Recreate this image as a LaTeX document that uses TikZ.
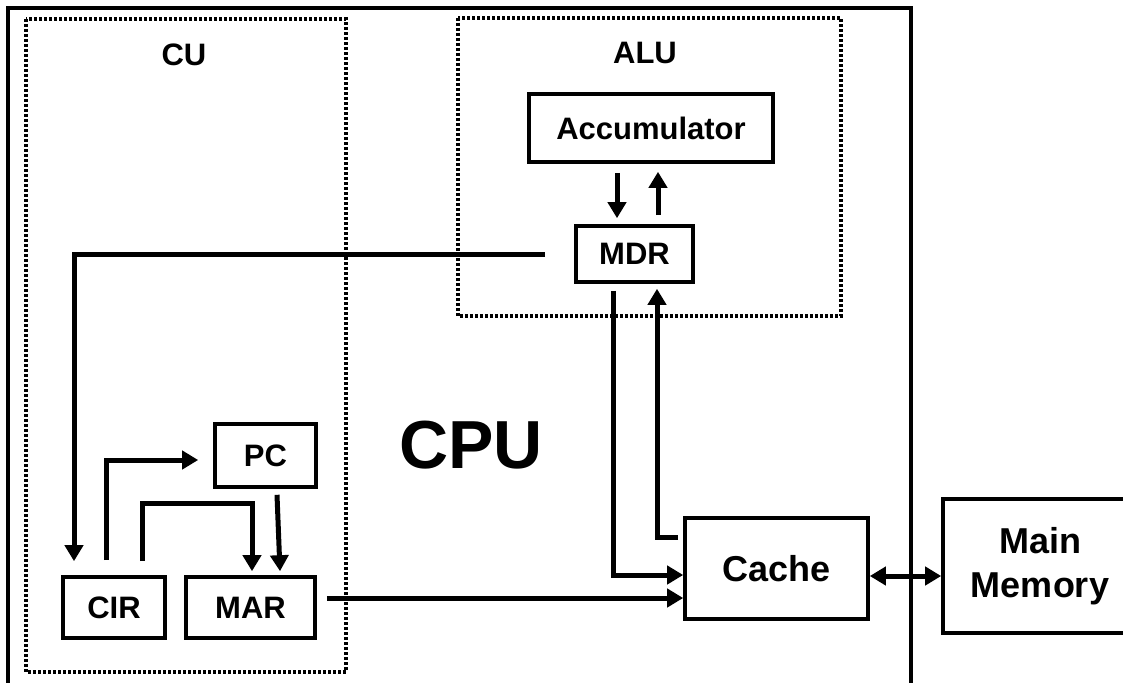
\documentclass[tikz,border=0pt]{standalone}
\usepackage{fontspec}
\setmainfont{Liberation Sans}
\usetikzlibrary{arrows.meta}
\tikzset{
  box/.style={draw, line width=3.6pt, inner sep=0pt, align=center,
    font=\bfseries\fontsize{31}{37}\selectfont},
  bigbox/.style={box, font=\bfseries\fontsize{36}{44}\selectfont},
  lbl/.style={inner sep=0pt, font=\bfseries\fontsize{31}{37}\selectfont},
  grp/.style={line width=3.6pt, dash pattern=on 3pt off 2pt},
  arr/.style={line width=5pt, ->},
  darr/.style={line width=5pt, <->},
  >={Triangle[length=16pt,width=18pt]}
}
\begin{document}
\begin{tikzpicture}[x=1pt,y=-1pt]
\useasboundingbox (0,0) rectangle (1123,682);
\clip (0,0) rectangle (1123,682);
% CPU outline (open at bottom)
\draw[line width=3.6pt] (8,690) -- (8,8) -- (911,8) -- (911,690);
% groups
\draw[grp] (26,19) rectangle (346,672);
\draw[grp] (458,18) rectangle (841,316);
\node[lbl] (culbl) at (184,55) {CU};
\node[lbl] (alulbl) at (645,53) {ALU};
\node[inner sep=0pt, font=\bfseries\fontsize{68}{80}\selectfont] (cpulbl) at (471,445) {CPU};
% boxes
\node[box, minimum width=244pt, minimum height=68pt] (acc) at (651,128) {Accumulator};
\node[box, minimum width=117pt, minimum height=56pt] (mdr) at (634.5,254) {MDR};
\node[bigbox, minimum width=183pt, minimum height=101pt] (cache) at (776.5,568.5) {Cache};
\node[box, minimum width=101pt, minimum height=63pt] (pc) at (265.5,455.5) {PC};
\node[box, minimum width=102pt, minimum height=61pt] (cir) at (114,607.5) {CIR};
\node[box, minimum width=129pt, minimum height=61pt] (mar) at (250.5,607.5) {MAR};
\node[box, minimum width=194pt, minimum height=134pt] (mm) at (1040,566) {};
\node[inner sep=0pt, align=center, font=\bfseries\fontsize{36}{44}\selectfont] (mmtext) at (1040,566) {Main\\Memory};
% connectors
\draw[arr] ([xshift=-34pt,yshift=-9pt]acc.south) -- ([xshift=-17.5pt,yshift=6pt]mdr.north);
\draw[arr] ([xshift=23.5pt,yshift=9pt]mdr.north) -- ([xshift=7pt,yshift=-8pt]acc.south);
\draw[arr] ([xshift=-29pt]mdr.west) -| ([xshift=-40pt,yshift=14pt]cir.north);
\draw[arr] ([xshift=-21.5pt,yshift=-7pt]mdr.south) |- ([yshift=-6.5pt]cache.west);
\draw[arr] ([xshift=-5pt,yshift=31.5pt]cache.west) -| ([xshift=22.5pt,yshift=-5pt]mdr.south);
\draw[arr] ([xshift=10pt,yshift=9.5pt]mar.east) -- ([yshift=-29.5pt]cache.west);
\draw[darr] ([yshift=-7.5pt]cache.east) -- ([yshift=-10pt]mm.west);
\draw[arr] ([xshift=-8pt,yshift=15pt]cir.north) |- ([xshift=-15pt,yshift=-4.5pt]pc.west);
\draw[arr] ([xshift=28pt,yshift=14pt]cir.north) -- ++(0pt,58pt) -| ([xshift=1.5pt,yshift=4pt]mar.north);
\draw[arr] ([xshift=11.5pt,yshift=-6pt]pc.south) -- ([xshift=29.5pt,yshift=4pt]mar.north);
\end{tikzpicture}
\end{document}
